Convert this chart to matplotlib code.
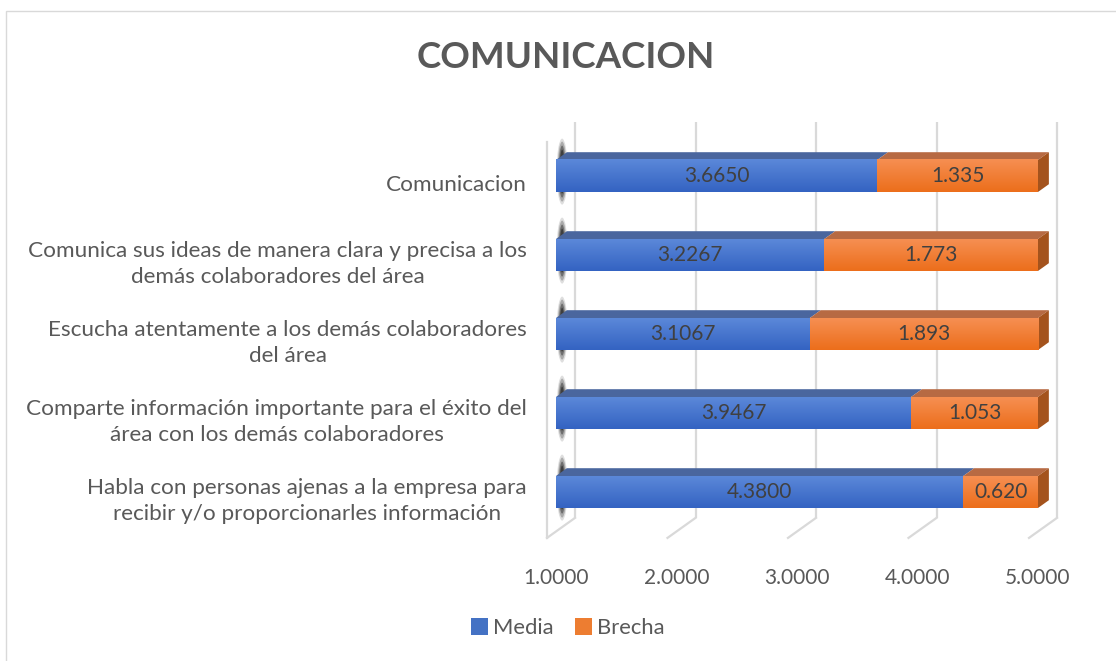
import matplotlib
matplotlib.use("Agg")
import matplotlib.pyplot as plt
from matplotlib.patches import Polygon, Rectangle, Ellipse, Patch
from matplotlib.colors import LinearSegmentedColormap
import numpy as np

# ---------------- data ----------------
categories = [
    "Habla con personas ajenas a la empresa para\nrecibir y/o proporcionarles información",
    "Comparte información importante para el éxito del\nárea con los demás colaboradores",
    "Escucha atentamente a los demás colaboradores\ndel área",
    "Comunica sus ideas de manera clara y precisa a los\ndemás colaboradores del área",
    "Comunicacion",
]
media = [4.3800, 3.9467, 3.1067, 3.2267, 3.6650]
brecha = [0.620, 1.053, 1.893, 1.773, 1.335]
media_labels = ["4.3800", "3.9467", "3.1067", "3.2267", "3.6650"]
brecha_labels = ["0.620", "1.053", "1.893", "1.773", "1.335"]
xticks = [1.0, 2.0, 3.0, 4.0, 5.0]
xtick_labels = ["1.0000", "2.0000", "3.0000", "4.0000", "5.0000"]
axis_min = 1.0
series_names = ["Media", "Brecha"]
title = "COMUNICACION"

# ---------------- layout ----------------
W, H = 1116, 661
PX = 120.5      # pixels per value unit on back wall
CAT = 79.0      # pixels per category
X0 = 575.0      # pixel x of axis_min on back wall
Y0 = 661 - 478.4  # pixel (bottom-origin) of category 0 on back wall
DX, DY = 28.0 / PX, 20.0 / CAT  # depth offsets (data units) for full depth
D_FRONT, D_BACK = 0.68, 0.29
HALF = 16.0 / CAT
TXT = "#595959"
FONT = "Lato"

def proj(v, y, d):
    return (v - DX * d, y - DY * d)

fig = plt.figure(figsize=(W / 100, H / 100), dpi=100)
ax = fig.add_axes([0, 0, 1, 1])
ax.axis("off")

# walls / gridlines
grid_c = "#d9d9d9"
y_wall_bot, y_wall_top = -0.5, 4.51
for v in xticks:
    ax.plot([v, v], [y_wall_bot, y_wall_top], color=grid_c, lw=1.6, zorder=1,
            solid_capstyle="butt")
    p0 = proj(v, y_wall_bot, 0)
    p1 = proj(v, y_wall_bot, 1)
    ax.plot([p0[0], p1[0]], [p0[1], p1[1]], color=grid_c, lw=1.6, zorder=1)
# left wall front edge
a = proj(axis_min, y_wall_bot, 1)
b = proj(axis_min, y_wall_top, 1)
ax.plot([a[0], b[0]], [a[1], b[1]], color=grid_c, lw=1.6, zorder=1)

blue_cm = LinearSegmentedColormap.from_list("b", ["#5b88d9", "#3463c2"])
orange_cm = LinearSegmentedColormap.from_list("o", ["#f68f52", "#ec6e1b"])
grad = np.linspace(0, 1, 64).reshape(-1, 1)

def front_face(v0, v1, yc, cmap):
    x0, y0 = proj(v0, yc - HALF, D_FRONT)
    x1, y1 = proj(v1, yc + HALF, D_FRONT)
    ax.imshow(grad, cmap=cmap, extent=(x0, x1, y0, y1), origin="upper",
              aspect="auto", zorder=5, interpolation="bilinear")

def poly(pts, color, z=4):
    ax.add_patch(Polygon(pts, closed=True, facecolor=color, edgecolor="none", zorder=z))

for i in range(len(categories)):
    yc = i
    m_end = media[i]
    b_end = media[i] + brecha[i]
    # dark end-cap blob
    cx, cy = proj(axis_min, yc, 0.46)
    for w, hgt, al in [(11, 66, 0.15), (9, 60, 0.28), (7, 52, 0.45), (5, 44, 0.65)]:
        ax.add_patch(Ellipse((cx, cy), w / PX, hgt / CAT, facecolor="#262626",
                             edgecolor="none", alpha=al, zorder=2))
    # top faces
    yt = yc + HALF
    poly([proj(axis_min, yt, D_FRONT), proj(m_end, yt, D_FRONT),
          proj(m_end, yt, D_BACK), proj(axis_min, yt, D_BACK)], "#4a669e")
    poly([proj(m_end, yt, D_FRONT), proj(b_end, yt, D_FRONT),
          proj(b_end, yt, D_BACK), proj(m_end, yt, D_BACK)], "#b76a43")
    # right side face
    pts = [proj(b_end, yc - HALF, D_FRONT), proj(b_end, yt, D_FRONT),
           proj(b_end, yt, D_BACK), proj(b_end, yc - HALF, D_BACK)]
    poly(pts, "#a4531d")
    # front faces
    front_face(axis_min, m_end, yc, blue_cm)
    front_face(m_end, b_end, yc, orange_cm)
    # data labels
    fx0 = proj(axis_min, yc, D_FRONT)[0]
    fxm = proj(m_end, yc, D_FRONT)[0]
    fxb = proj(b_end, yc, D_FRONT)[0]
    fy = proj(axis_min, yc, D_FRONT)[1]
    ax.text((fx0 + fxm) / 2, fy, media_labels[i], ha="center", va="center",
            fontsize=15, color="#404040", family=FONT, zorder=10)
    ax.text((fxm + fxb) / 2, fy, brecha_labels[i], ha="center", va="center",
            fontsize=15, color="#404040", family=FONT, zorder=10)
    # category label
    lx = axis_min + (527 - X0) / PX
    ly = proj(axis_min, yc, 1.0)[1] - 3 / CAT
    ax.text(lx, ly, categories[i], ha="right", va="center", multialignment="center",
            fontsize=16.2, color=TXT, family=FONT, linespacing=1.38)

# x tick labels
ty = (661 - 578 - Y0) / CAT
for v, lab in zip(xticks, xtick_labels):
    ax.text(proj(v, 0, D_FRONT)[0], ty, lab, ha="center", va="center",
            fontsize=15, color=TXT, family=FONT)

ax.set_xlim(axis_min - X0 / PX, axis_min + (W - X0) / PX)
ax.set_ylim(-Y0 / CAT, (H - Y0) / CAT)

# title
fig.text(566 / W, 1 - 57 / H, title, ha="center", va="center", fontsize=26.5,
         fontweight="bold", color=TXT, family=FONT)

# legend
handles = [Patch(facecolor="#4472c4", edgecolor="none"),
           Patch(facecolor="#ed7d31", edgecolor="none")]
fig.legend(handles, series_names, loc="center", bbox_to_anchor=(568 / W, 1 - 628 / H),
           ncol=2, frameon=False, handlelength=0.75, handleheight=0.85,
           handletextpad=0.25, columnspacing=1.0,
           prop={"family": FONT, "size": 15.8}, labelcolor=TXT)

# chart border
fig.add_artist(Rectangle((5.5 / W, -0.05), 1.2, (H - 10.5) / H + 0.05,
                         transform=fig.transFigure, fill=False,
                         edgecolor="#d9d9d9", lw=1.0))

fig.savefig("out.png", dpi=100)
